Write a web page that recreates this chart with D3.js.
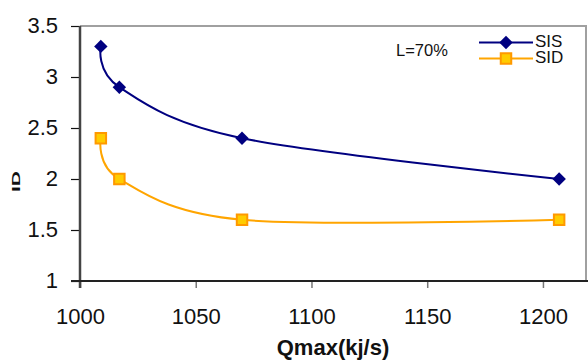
<!DOCTYPE html>
<html>
<head>
<meta charset="utf-8">
<script src="https://cdn.jsdelivr.net/npm/d3@7"></script>
<style>
  html, body { margin: 0; padding: 0; background: #fff; }
  svg { display: block; font-family: "Liberation Sans", Arial, sans-serif; }
</style>
</head>
<body>
<svg id="chart" width="588" height="360"></svg>
<script>
// Heat load (kJ/s) versus ID for SIS and SID at L = 70%
const qmax = [1009, 1017, 1070, 1207];
const sisValues = [3.3, 2.9, 2.4, 2.0];
const sidValues = [2.4, 2.0, 1.6, 1.6];
const xTicks = [1000, 1050, 1100, 1150, 1200];
const yTicks = [1, 1.5, 2, 2.5, 3, 3.5];
const seriesNames = ["SIS", "SID"];

const svg = d3.select("#chart");
const plot = { left: 80, top: 26, right: 586, bottom: 281 };

const x = d3.scaleLinear().domain([1000, 1218.6]).range([plot.left, plot.right]);
const y = d3.scaleLinear().domain([1, 3.5]).range([plot.bottom, plot.top]);

// plot frame (top and right edges)
svg.append("path")
  .attr("d", `M${plot.left},${plot.top}H${plot.right}V${plot.bottom}`)
  .attr("fill", "none").attr("stroke", "#a0a0a0").attr("stroke-width", 2);

// y axis
const yAxis = svg.append("g")
  .attr("transform", `translate(${plot.left},0)`)
  .call(d3.axisLeft(y).tickValues(yTicks).tickSize(9).tickPadding(13)
    .tickFormat(d => String(d)));
yAxis.select(".domain").remove();
yAxis.selectAll(".tick line").attr("stroke", "#111").attr("stroke-width", 1.2);
yAxis.selectAll(".tick text").attr("font-size", 22).attr("fill", "#111")
  .attr("dy", "0.28em")
  .attr("font-family", "Liberation Sans, Arial, sans-serif");

// x axis
const xAxis = svg.append("g")
  .attr("transform", `translate(0,${plot.bottom})`)
  .call(d3.axisBottom(x).tickValues(xTicks).tickSize(7).tickPadding(20)
    .tickFormat(d3.format("d")));
xAxis.select(".domain").remove();
xAxis.selectAll(".tick line").attr("stroke", "#777").attr("stroke-width", 1.5);
xAxis.selectAll(".tick text").attr("font-size", 22).attr("fill", "#111")
  .attr("font-family", "Liberation Sans, Arial, sans-serif");

// axis lines
svg.append("line")
  .attr("x1", plot.left).attr("x2", plot.left)
  .attr("y1", plot.top).attr("y2", plot.bottom + 7)
  .attr("stroke", "#444").attr("stroke-width", 2.5);
svg.append("line")
  .attr("x1", plot.left - 9).attr("x2", plot.right + 2)
  .attr("y1", plot.bottom).attr("y2", plot.bottom)
  .attr("stroke", "#222").attr("stroke-width", 2);

// axis titles
svg.append("text")
  .attr("x", 333).attr("y", 355)
  .attr("text-anchor", "middle")
  .attr("font-size", 22).attr("font-weight", "bold")
  .attr("fill", "#111")
  .text("Qmax(kj/s)");
svg.append("text")
  .attr("transform", "translate(19.5,181.5) rotate(-90) scale(1.5,0.75)")
  .attr("text-anchor", "middle")
  .attr("font-size", 14).attr("font-weight", "bold")
  .attr("fill", "#111")
  .text("ID");

// Excel-style smoothed line: uniform cardinal spline
const line = d3.line()
  .x(d => x(d[0]))
  .y(d => y(d[1]))
  .curve(d3.curveCardinal.tension(0));

const sisData = qmax.map((q, i) => [q, sisValues[i]]);
const sidData = qmax.map((q, i) => [q, sidValues[i]]);

const sisColor = "#000080";
const sidLine = "#ffa500";
const sidFill = "#ffcc00";
const sidStroke = "#ff9900";

svg.append("path").datum(sisData)
  .attr("d", line).attr("fill", "none")
  .attr("stroke", sisColor).attr("stroke-width", 2);
svg.append("path").datum(sidData)
  .attr("d", line).attr("fill", "none")
  .attr("stroke", sidLine).attr("stroke-width", 2);

const diamond = d3.symbol().type(d3.symbolDiamond2).size(115);
const square = d3.symbol().type(d3.symbolSquare2).size(140);

svg.append("g").selectAll("path").data(sisData).join("path")
  .attr("transform", d => `translate(${x(d[0])},${y(d[1])})`)
  .attr("d", diamond).attr("fill", sisColor);

svg.append("g").selectAll("path").data(sidData).join("path")
  .attr("transform", d => `translate(${x(d[0])},${y(d[1])})`)
  .attr("d", square).attr("fill", sidFill)
  .attr("stroke", sidStroke).attr("stroke-width", 2);

// annotation
svg.append("text")
  .attr("x", 396).attr("y", 56)
  .attr("font-size", 16.5).attr("fill", "#111").text("L=70%");

// legend
const legend = svg.append("g");
const legendRows = [
  { name: seriesNames[0], y: 42.5, color: sisColor, marker: "diamond" },
  { name: seriesNames[1], y: 58.5, color: sidLine, marker: "square" }
];
legendRows.forEach(r => {
  legend.append("line")
    .attr("x1", 479).attr("x2", 533).attr("y1", r.y).attr("y2", r.y)
    .attr("stroke", r.color).attr("stroke-width", 2);
  if (r.marker === "diamond") {
    legend.append("path")
      .attr("transform", `translate(506,${r.y})`)
      .attr("d", diamond).attr("fill", sisColor);
  } else {
    legend.append("path")
      .attr("transform", `translate(506,${r.y})`)
      .attr("d", square).attr("fill", sidFill)
      .attr("stroke", sidStroke).attr("stroke-width", 2);
  }
  legend.append("text")
    .attr("x", 535).attr("y", r.y + 4)
    .attr("font-size", 17).attr("fill", "#111").text(r.name);
});
</script>
</body>
</html>
